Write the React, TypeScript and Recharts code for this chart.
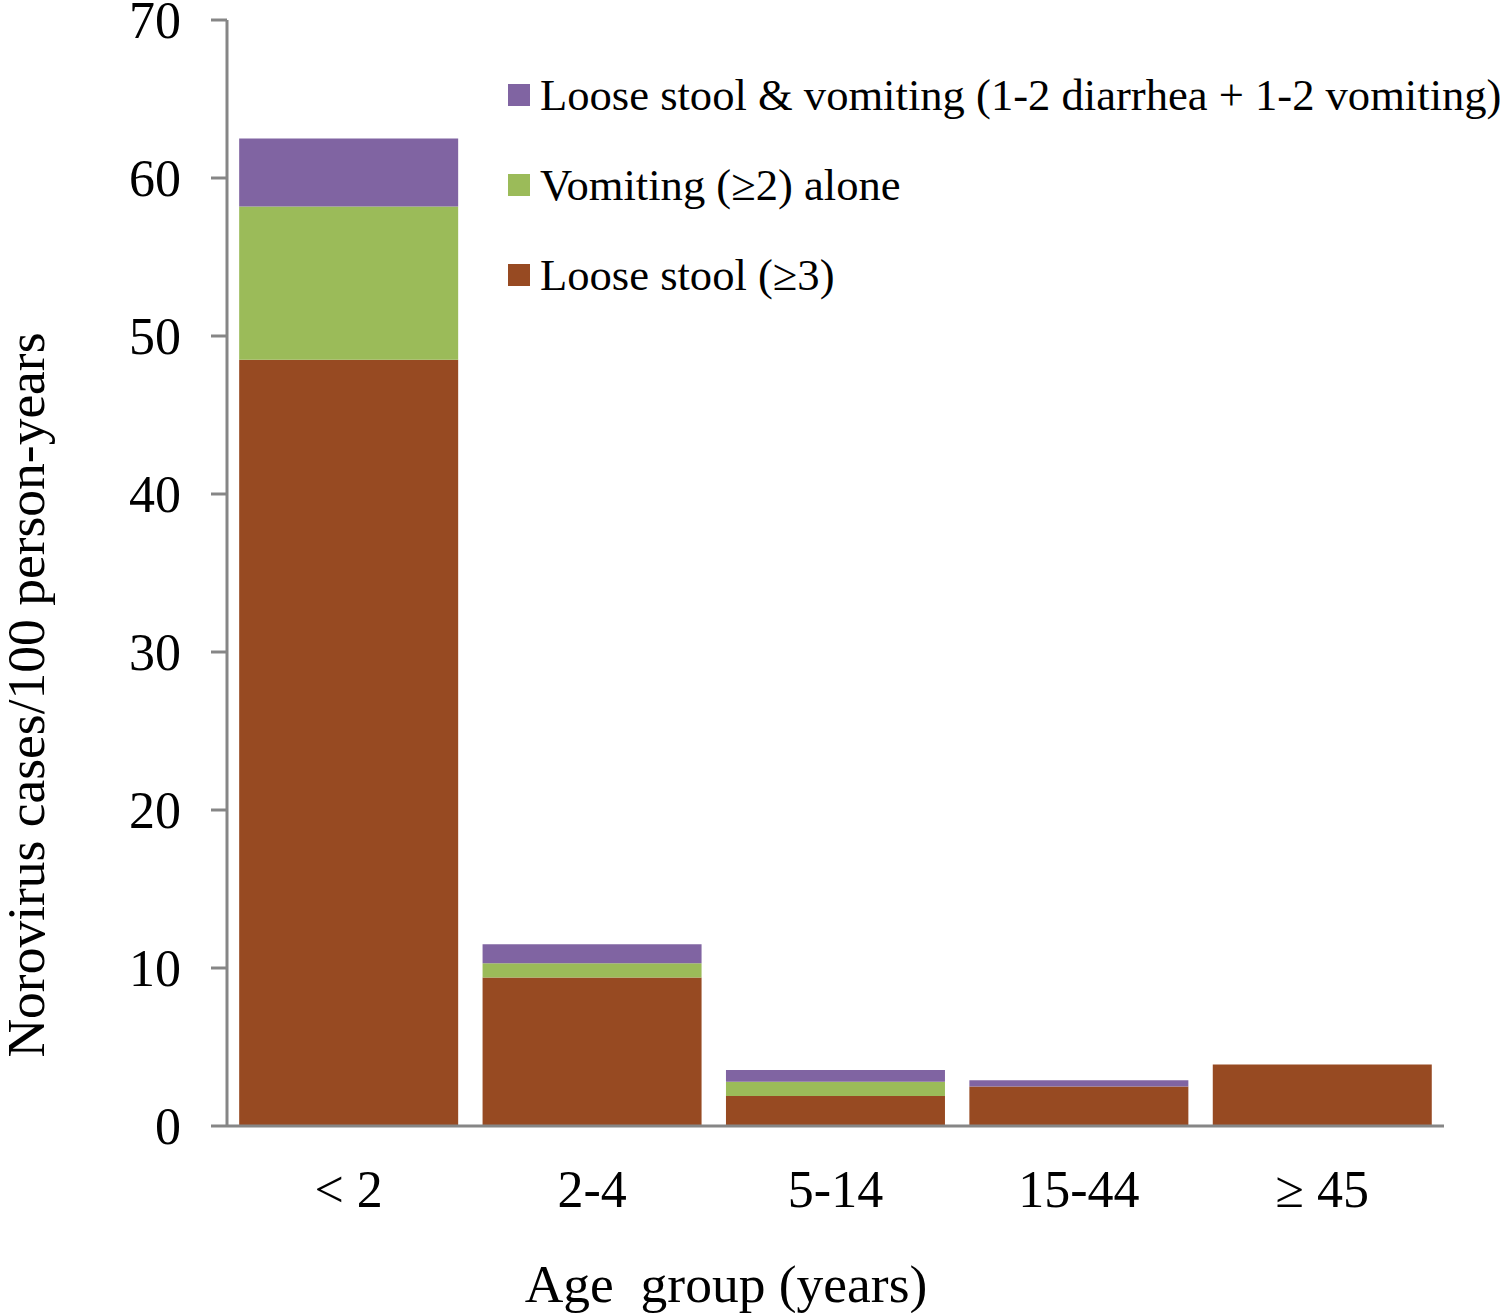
import { Bar, BarChart, Label, Legend, XAxis, YAxis } from "recharts";

const ageGroups = ["< 2", "2-4", "5-14", "15-44", "\u2265 45"];
const looseStool = [48.5, 9.4, 1.9, 2.5, 3.9];
const vomitingAlone = [9.7, 0.9, 0.9, 0, 0];
const looseAndVomiting = [4.3, 1.2, 0.75, 0.4, 0];
const yTicks = [0, 10, 20, 30, 40, 50, 60, 70];

const seriesInfo = [
  { key: "both", name: "Loose stool & vomiting (1-2 diarrhea + 1-2 vomiting)", color: "#8064A2" },
  { key: "vomit", name: "Vomiting (\u22652) alone", color: "#9BBB59" },
  { key: "stool", name: "Loose stool (\u22653)", color: "#974A22" },
];

const data = ageGroups.map((g, i) => ({
  group: g,
  stool: looseStool[i],
  vomit: vomitingAlone[i],
  both: looseAndVomiting[i],
}));

const font = "'Liberation Serif', 'Times New Roman', serif";
const axisColor = "#868686";

function LegendBox() {
  return (
    <div style={{ fontFamily: font, fontSize: 44.6, color: "#000" }}>
      {seriesInfo.map((s) => (
        <div key={s.key} style={{ display: "flex", alignItems: "center", height: 90, whiteSpace: "nowrap" }}>
          <span style={{ width: 22, height: 22, background: s.color, marginRight: 10, display: "inline-block" }} />
          <span>{s.name}</span>
        </div>
      ))}
    </div>
  );
}

export default function App() {
  return (
    <div style={{ position: "absolute", left: 0, top: 0, background: "#fff" }}>
      <BarChart
        width={1500}
        height={1313}
        data={data}
        margin={{ top: 20, right: 56, bottom: 0, left: 0 }}
        barCategoryGap="5%"
      >
        <XAxis
          dataKey="group"
          height={187}
          tickLine={false}
          tickSize={0}
          tickMargin={44}
          axisLine={{ stroke: axisColor, strokeWidth: 3 }}
          tick={{ fill: "#000", fontSize: 52, fontFamily: font }}
        >
          <Label
            content={() => (
              <text x={726} y={1302} textAnchor="middle" fontSize={53.5} fontFamily={font} fill="#000" style={{ whiteSpace: "pre" }}>
                Age  group (years)
              </text>
            )}
          />
        </XAxis>
        <YAxis
          width={227}
          domain={[0, 70]}
          ticks={yTicks}
          interval={0}
          tickSize={16}
          tickMargin={30}
          axisLine={{ stroke: axisColor, strokeWidth: 3 }}
          tickLine={{ stroke: axisColor, strokeWidth: 3 }}
          tick={{ fill: "#000", fontSize: 52, fontFamily: font }}
        >
          <Label
            content={() => (
              <text x={44} y={695} transform="rotate(-90, 44, 695)" textAnchor="middle" fontSize={53.5} fontFamily={font} fill="#000">
                Norovirus cases/100 person-years
              </text>
            )}
          />
        </YAxis>
        <Legend
          layout="vertical"
          align="center"
          verticalAlign="middle"
          content={() => <LegendBox />}
          wrapperStyle={{ left: 508, top: 50, width: "auto", height: "auto" }}
        />
        <Bar dataKey="stool" name={seriesInfo[2].name} stackId="a" fill={seriesInfo[2].color} isAnimationActive={false} />
        <Bar dataKey="vomit" name={seriesInfo[1].name} stackId="a" fill={seriesInfo[1].color} isAnimationActive={false} />
        <Bar dataKey="both" name={seriesInfo[0].name} stackId="a" fill={seriesInfo[0].color} isAnimationActive={false} />
      </BarChart>
    </div>
  );
}
